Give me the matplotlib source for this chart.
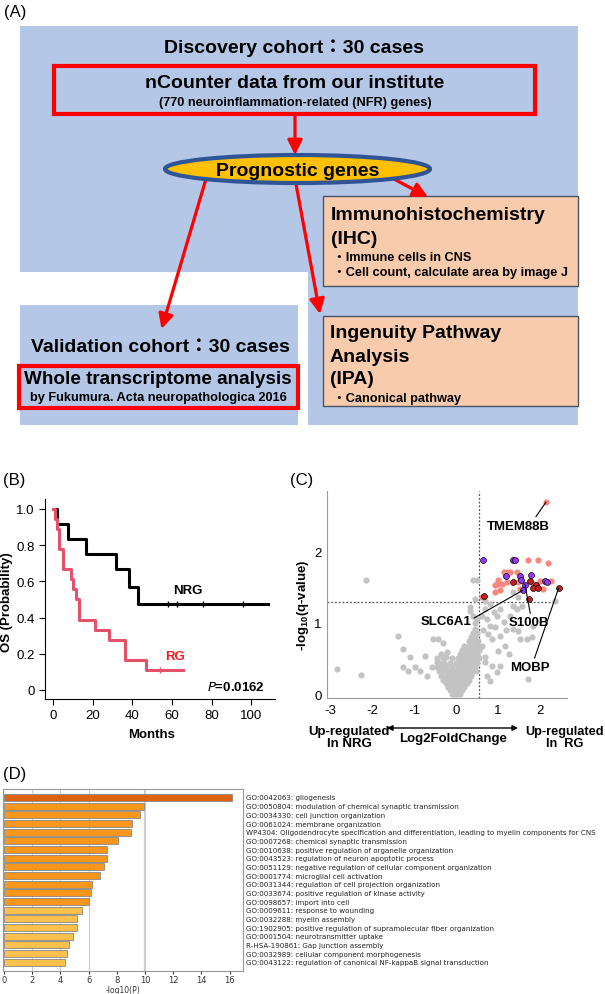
import numpy as np
import matplotlib.pyplot as plt
from matplotlib.patches import Rectangle, Ellipse

plt.rcParams['font.family'] = ['Liberation Sans', 'Noto Sans CJK JP', 'DejaVu Sans']
plt.rcParams['mathtext.fontset'] = 'custom'
plt.rcParams['mathtext.rm'] = 'Liberation Sans'
plt.rcParams['mathtext.bf'] = 'Liberation Sans:bold'
plt.rcParams['axes.unicode_minus'] = False

W, H = 605, 995

# ---------------- data ----------------
# (B) Kaplan-Meier steps
nrg_t = [0, 2, 7.3, 16.5, 31.5, 38, 43, 108.6]
nrg_s = [1.0, 0.917, 0.833, 0.75, 0.667, 0.571, 0.476, 0.476]
nrg_cens = [58, 62.3, 75.8, 96]
rg_t = [0, 1, 2, 3, 5, 8.8, 10.1, 11.5, 13.1, 21.1, 28.3, 36.2, 46.8, 65.3]
rg_s = [1.0, 0.944, 0.889, 0.778, 0.667, 0.611, 0.556, 0.5, 0.389, 0.333, 0.278, 0.167, 0.111, 0.111]
rg_cens = [53.9]

# (C) volcano plot (log2FC, -log10 q)
gray_pts = [
    (-0.1, 0.0), (-0.05, 0.0), (0.0, 0.0), (0.05, 0.0), (0.1, 0.0),
    (-0.15, 0.05), (-0.08, 0.05), (0.0, 0.05), (0.08, 0.05), (0.15, 0.05),
    (-0.2, 0.1), (-0.12, 0.1), (-0.04, 0.1), (0.04, 0.1), (0.12, 0.1), (0.2, 0.1),
    (-0.25, 0.15), (-0.16, 0.15), (-0.07, 0.15), (0.02, 0.15), (0.1, 0.15), (0.18, 0.15), (0.26, 0.15),
    (-0.3, 0.2), (-0.2, 0.2), (-0.1, 0.2), (0.0, 0.2), (0.1, 0.2), (0.2, 0.2), (0.3, 0.2),
    (-0.35, 0.26), (-0.25, 0.26), (-0.15, 0.26), (-0.05, 0.26), (0.05, 0.26), (0.15, 0.26), (0.25, 0.26), (0.35, 0.26),
    (-0.4, 0.32), (-0.3, 0.32), (-0.2, 0.32), (-0.1, 0.32), (0.0, 0.32), (0.1, 0.32), (0.2, 0.32), (0.3, 0.32), (0.4, 0.32), (0.48, 0.32),
    (-0.45, 0.38), (-0.35, 0.38), (-0.25, 0.38), (-0.1, 0.38), (0.05, 0.38), (0.15, 0.38), (0.25, 0.38), (0.35, 0.38), (0.45, 0.38),
    (-0.4, 0.44), (-0.28, 0.44), (-0.15, 0.44), (0.0, 0.44), (0.1, 0.44), (0.2, 0.44), (0.3, 0.44), (0.4, 0.44), (0.5, 0.44),
    (-0.45, 0.5), (-0.3, 0.5), (-0.1, 0.5), (0.05, 0.5), (0.15, 0.5), (0.25, 0.5), (0.35, 0.5), (0.45, 0.5), (0.55, 0.5),
    (-0.35, 0.56), (0.1, 0.56), (0.2, 0.56), (0.3, 0.56), (0.4, 0.56), (0.5, 0.56),
    (0.15, 0.62), (0.25, 0.62), (0.35, 0.62), (0.45, 0.62), (0.55, 0.62),
    (0.2, 0.68), (0.3, 0.68), (0.4, 0.68), (0.5, 0.68), (0.32, 0.74), (0.42, 0.74), (0.52, 0.74),
    (0.35, 0.8), (0.45, 0.8), (0.4, 0.86), (0.5, 0.86), (0.45, 0.92),
    (0.45, 1.0), (0.5, 1.05), (0.4, 1.1), (0.33, 1.17), (0.33, 1.22), (0.45, 1.34), (0.41, 1.6), (0.49, 1.6),
    (-2.84, 0.35), (-2.25, 0.27), (-2.14, 1.6), (-1.39, 0.81), (-1.26, 0.64), (-1.10, 0.52),
    (-1.26, 0.38), (-1.14, 0.33), (-0.97, 0.38), (-0.74, 0.54), (-0.54, 0.77), (-0.42, 0.77),
    (-0.30, 0.72), (-0.24, 0.52), (-0.86, 0.33), (-0.70, 0.26), (-0.58, 0.38), (-0.46, 0.45),
    (-0.34, 0.33), (-0.22, 0.59),
    (0.61, 1.10), (0.69, 1.2), (0.73, 1.06), (0.81, 0.96), (0.97, 1.10), (1.05, 1.2),
    (0.93, 0.94), (0.85, 0.77), (1.05, 0.82), (1.17, 0.68), (1.25, 0.56), (1.36, 1.24),
    (1.44, 1.2), (1.36, 0.92), (1.48, 0.89), (1.52, 0.77), (1.68, 0.77), (1.80, 0.80),
    (1.84, 0.96), (1.36, 1.43), (1.48, 1.36), (1.56, 1.24), (1.05, 0.40), (0.97, 0.31),
    (0.81, 0.19), (1.72, 0.21), (2.36, 1.31), (0.69, 1.31), (0.81, 1.26), (1.13, 1.01),
    (1.29, 1.10), (0.61, 0.68), (0.49, 0.54), (0.69, 0.52), (0.85, 0.40), (0.73, 0.26),
    (0.65, 0.9), (0.75, 0.85), (0.9, 1.15), (1.2, 0.9), (1.0, 0.6), (0.7, 0.45),
]
salmon_pts = [(2.14, 2.70), (1.72, 1.89), (1.94, 1.89), (2.19, 1.85), (1.13, 1.71), (1.21, 1.71),
              (1.29, 1.71), (1.01, 1.60), (0.97, 1.55), (0.92, 1.54), (1.10, 1.55), (1.21, 1.57),
              (1.48, 1.57), (1.05, 1.46), (0.93, 1.43), (0.61, 1.36), (1.52, 1.48), (1.84, 1.55),
              (2.00, 1.59), (2.26, 1.59), (2.06, 1.48), (1.44, 1.71)]
purple_pts = [(0.64, 1.89), (1.36, 1.89), (1.40, 1.89), (1.19, 1.66), (1.52, 1.66), (1.78, 1.67),
              (1.54, 1.60), (1.64, 1.54), (1.59, 1.46), (2.12, 1.59), (2.17, 1.58)]
darkred_pts = [(0.67, 1.38), (1.36, 1.58), (1.76, 1.59), (1.90, 1.54), (1.83, 1.49), (1.96, 1.49),
               (1.73, 1.34), (2.44, 1.49)]
genes = ['TMEM88B', 'SLC6A1', 'S100B', 'MOBP']
gene_pts = [(2.14, 2.70), (1.59, 1.46), (1.64, 1.54), (2.44, 1.49)]

# (D) enrichment
terms = [
    'GO:0042063: gliogenesis',
    'GO:0050804: modulation of chemical synaptic transmission',
    'GO:0034330: cell junction organization',
    'GO:0061024: membrane organization',
    'WP4304: Oligodendrocyte specification and differentiation, leading to myelin components for CNS',
    'GO:0007268: chemical synaptic transmission',
    'GO:0010638: positive regulation of organelle organization',
    'GO:0043523: regulation of neuron apoptotic process',
    'GO:0051129: negative regulation of cellular component organization',
    'GO:0001774: microglial cell activation',
    'GO:0031344: regulation of cell projection organization',
    'GO:0033674: positive regulation of kinase activity',
    'GO:0098657: import into cell',
    'GO:0009611: response to wounding',
    'GO:0032288: myelin assembly',
    'GO:1902905: positive regulation of supramolecular fiber organization',
    'GO:0001504: neurotransmitter uptake',
    'R-HSA-190861: Gap junction assembly',
    'GO:0032989: cellular component morphogenesis',
    'GO:0043122: regulation of canonical NF-kappaB signal transduction',
]
logp = [16.15, 9.95, 9.67, 9.1, 9.0, 8.09, 7.3, 7.28, 7.09, 6.81,
        6.26, 6.17, 6.05, 5.53, 5.2, 5.2, 4.89, 4.63, 4.47, 4.33]

# ---------------- figure ----------------
fig = plt.figure(figsize=(W / 100, H / 100), dpi=100)
ov = fig.add_axes([0, 0, 1, 1])
ov.set_xlim(0, W)
ov.set_ylim(H, 0)
ov.axis('off')


def px_axes(l, t, r, b):
    ax = fig.add_axes([l / W, 1 - b / H, (r - l) / W, (b - t) / H])
    ax.patch.set_alpha(0)
    return ax


# ---- (A) flow chart ----
blue = '#B4C7E7'
ov.add_patch(Rectangle((20, 27), 558, 246, fc=blue, ec='none'))
ov.add_patch(Rectangle((308, 273), 270, 153, fc=blue, ec='none'))
ov.add_patch(Rectangle((20, 306), 278, 120, fc=blue, ec='none'))
ov.add_patch(Rectangle((54, 67), 481, 48, fc='none', ec='#FF0000', lw=3))
ov.add_patch(Rectangle((18.5, 367), 279.5, 42, fc='none', ec='#FF0000', lw=3))
ov.add_patch(Rectangle((322.5, 197), 255.5, 90, fc='#F8CBAD', ec='#44546A', lw=1))
ov.add_patch(Rectangle((322.5, 317), 255.5, 90, fc='#F8CBAD', ec='#44546A', lw=1))

arrows = [((295, 117), (295, 156)), ((206, 180), (161.5, 330)),
          ((296, 185), (320, 315)), ((390, 178), (428, 198))]
for a, b in arrows:
    ov.annotate('', xy=b, xytext=a,
                arrowprops=dict(arrowstyle='-|>', color='#FF0000', lw=2.3,
                                mutation_scale=22, shrinkA=0, shrinkB=0))
ov.add_patch(Ellipse((297.5, 170), 265, 28, fc='#FFC000', ec='#2F5597', lw=3, zorder=5))

bold = dict(fontweight='bold', color='black')
big, small = 14, 9.2
ov.text(4, 12, '(A)', fontsize=12, va='center')
ov.text(294, 48, 'Discovery cohort：30 cases', fontsize=big, ha='center', va='center', **bold)
ov.text(295, 84, 'nCounter data from our institute', fontsize=big, ha='center', va='center', **bold)
ov.text(295, 103, '(770 neuroinflammation-related (NFR) genes)', fontsize=small, ha='center', va='center', **bold)
ov.text(298, 171, 'Prognostic genes', fontsize=big, ha='center', va='center', zorder=6, **bold)
ov.text(331, 216, 'Immunohistochemistry', fontsize=big, va='center', **bold)
ov.text(331, 239, '(IHC)', fontsize=big, va='center', **bold)
ov.text(333, 258, '・Immune cells in CNS', fontsize=small, va='center', **bold)
ov.text(333, 273, '・Cell count, calculate area by image J', fontsize=small, va='center', **bold)
ov.text(160, 347, 'Validation cohort：30 cases', fontsize=big, ha='center', va='center', **bold)
ov.text(158, 380, 'Whole transcriptome analysis', fontsize=13.6, ha='center', va='center', **bold)
ov.text(158, 398, 'by Fukumura. Acta neuropathologica 2016', fontsize=small, ha='center', va='center', **bold)
ov.text(330, 334, 'Ingenuity Pathway', fontsize=big, va='center', **bold)
ov.text(330, 357, 'Analysis', fontsize=big, va='center', **bold)
ov.text(330, 380, '(IPA)', fontsize=big, va='center', **bold)
ov.text(333, 399, '・Canonical pathway', fontsize=small, va='center', **bold)

# panel letters and outer labels
ov.text(3, 480, '(B)', fontsize=12, va='center')
ov.text(290, 480, '(C)', fontsize=12, va='center')
ov.text(3, 775, '(D)', fontsize=12, va='center')
ov.text(7, 602, 'OS (Probability)', fontsize=9.5, rotation=90, ha='center', va='center', **bold)
ov.text(152, 735, 'Months', fontsize=9.5, ha='center', va='center', **bold)
ov.text(303, 605, r'-log$_{\mathbf{10}}$(q-value)', fontsize=9.5, rotation=90, ha='center', va='center', **bold)
ov.text(349, 738, 'Up-regulated\nIn NRG', fontsize=9.5, ha='center', va='center', linespacing=1.1, **bold)
ov.text(565, 738, 'Up-regulated\nIn  RG', fontsize=9.2, ha='center', va='center', linespacing=1.1, **bold)
ov.text(453, 739, 'Log2FoldChange', fontsize=9.5, ha='center', va='center', **bold)
ov.annotate('', xy=(518, 729), xytext=(387, 729),
            arrowprops=dict(arrowstyle='<|-|>', color='black', lw=1, mutation_scale=8,
                            shrinkA=0, shrinkB=0))

# ---- (B) Kaplan-Meier ----
axb = px_axes(45, 500, 275, 700)
axb.step(nrg_t, nrg_s, where='post', color='black', lw=2.2)
axb.step(rg_t, rg_s, where='post', color='#E5506B', lw=2.2)
axb.plot(nrg_cens, [nrg_s[-1]] * len(nrg_cens), '|', color='black', ms=5, mew=1)
axb.plot(rg_cens, [rg_s[-1]] * len(rg_cens), '|', color='#E5506B', ms=5, mew=1)
axb.set_xlim(-4.2, 112)
axb.set_ylim(-0.05, 1.055)
axb.set_xticks([0, 20, 40, 60, 80, 100])
axb.set_yticks([0, 0.2, 0.4, 0.6, 0.8, 1.0])
axb.set_yticklabels(['0', '0.2', '0.4', '0.6', '0.8', '1.0'])
axb.tick_params(labelsize=9.5, length=4, width=0.8)
for s in ['top', 'right']:
    axb.spines[s].set_visible(False)
axb.text(68, 0.55, 'NRG', fontsize=9.5, ha='center', va='center', **bold)
axb.text(61.5, 0.19, 'RG', fontsize=9.5, ha='center', va='center', fontweight='bold', color='#FF1A1A')
axb.text(107, 0.02, r'$\mathbf{\it{P}}$=0.0162', fontsize=9.5, ha='right', va='center', **bold)

# ---- (C) volcano ----
axc = px_axes(327, 491.7, 567, 699.3)
g = np.array(gray_pts)
axc.scatter(g[:, 0], g[:, 1], s=20, color='#C3C3C3', lw=0, zorder=2)
sp = np.array(salmon_pts)
axc.scatter(sp[:, 0], sp[:, 1], s=20, color='#F8877F', lw=0, zorder=3)
pp = np.array(purple_pts)
axc.scatter(pp[:, 0], pp[:, 1], s=18, color='#9933FF', edgecolor='black', lw=0.5, zorder=4)
dp = np.array(darkred_pts)
axc.scatter(dp[:, 0], dp[:, 1], s=18, color='#C81E1E', edgecolor='black', lw=0.5, zorder=4)
axc.axvline(0.55, color='#555555', ls=(0, (1.5, 1.5)), lw=0.9, zorder=1)
axc.plot([-3.07, 2.43], [1.301, 1.301], color='#555555', ls=(0, (1.5, 1.5)), lw=0.9, zorder=1)
axc.set_xlim(-3.07, 2.64)
axc.set_ylim(-0.06, 2.86)
axc.set_xticks([-3, -2, -1, 0, 1, 2])
axc.set_yticks([0, 1, 2])
axc.tick_params(labelsize=9.5, length=0, pad=4)
for s in ['top', 'right']:
    axc.spines[s].set_visible(False)
for s in ['left', 'bottom']:
    axc.spines[s].set_color('#999999')
label_pos = [(1.48, 2.37), (-0.24, 1.03), (1.73, 1.01), (1.75, 0.38)]
relpos = [(0.75, 1.0), (1.0, 0.6), (0.55, 1.0), (0.6, 1.0)]
for name, pt, tp, rp in zip(genes, gene_pts, label_pos, relpos):
    axc.annotate(name, xy=pt, xytext=tp, fontsize=9.5, ha='center', va='center', zorder=5,
                 arrowprops=dict(arrowstyle='-', color='black', lw=0.8, relpos=rp,
                                 shrinkA=0, shrinkB=0), **bold)

# ---- (D) enrichment bars ----
axd = px_axes(3.3, 790, 243, 971.7)
cols = ['#DE6412'] + ['#F8961E'] * 12 + ['#FDC04C'] * 7
y = np.arange(len(logp))
for xv in [2, 4, 6]:
    axd.axvline(xv, color='#CCCCCC', lw=0.8, zorder=0)
axd.axvline(10, color='#CCCCCC', lw=1.6, zorder=0)
axd.barh(y, logp, height=0.8, color=cols, edgecolor='#888888', lw=0.6, zorder=2)
axd.set_xlim(-0.05, 16.95)
axd.set_ylim(19.98, -0.98)
axd.set_yticks([])
axd.set_xticks(np.arange(0, 17, 2))
axd.tick_params(axis='x', labelsize=6, length=2, pad=1, colors='#333333')
for s in axd.spines.values():
    s.set_color('#999999')
    s.set_linewidth(0.8)
axd.set_xlabel('-log10(P)', fontsize=5.5, labelpad=1, family='DejaVu Sans', color='#333333')
for lbl in axd.get_xticklabels():
    lbl.set_family('DejaVu Sans')
for i, t in enumerate(terms):
    axd.text(17.15, i, t, fontsize=5.1, va='center', ha='left', family='DejaVu Sans',
             color='#222222', clip_on=False)

fig.savefig('out.png', dpi=100)
